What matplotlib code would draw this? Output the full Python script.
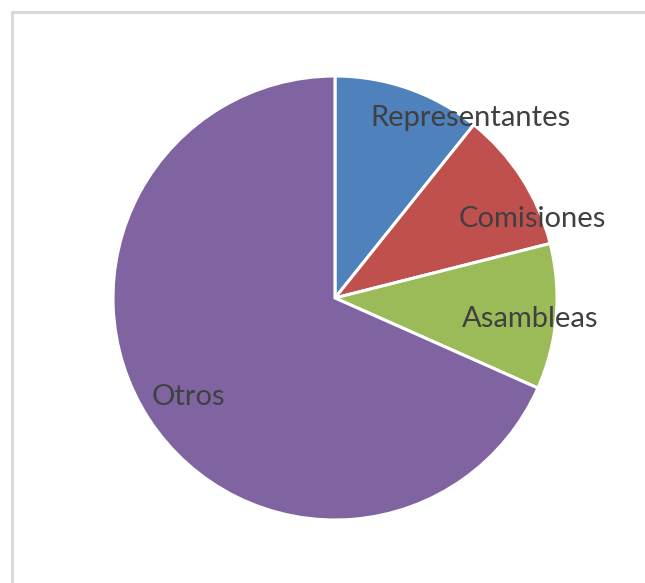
import matplotlib

matplotlib.use("Agg")
import matplotlib.pyplot as plt
from matplotlib.lines import Line2D

# share of each group (percent), clockwise from 12 o'clock
categories = ["Representantes", "Comisiones", "Asambleas", "Otros"]
shares = [10.75, 10.3, 10.6, 68.35]
colors = ["#4F81BD", "#C0504D", "#9BBB59", "#8064A2"]
# label anchor points in pie units (radius = 1)
label_pos = [(0.61, 0.81), (0.89, 0.355), (0.88, -0.095), (-0.66, -0.445)]

W, H = 645, 583
fig = plt.figure(figsize=(W / 100, H / 100), dpi=100)

# light grey chart-area frame (only top and left edges fall inside the image)
fig.add_artist(Line2D([11.5 / W, 11.5 / W], [0, 1 - 11.5 / H], color="#d9d9d9", lw=2.2))
fig.add_artist(Line2D([11.5 / W, 1], [1 - 11.5 / H, 1 - 11.5 / H], color="#d9d9d9", lw=2.2))

cx, cy, r = 335, 298, 222
ax = fig.add_axes([(cx - r) / W, (H - cy - r) / H, 2 * r / W, 2 * r / H])
ax.pie(shares, colors=colors, startangle=90, counterclock=False, radius=1,
       wedgeprops=dict(edgecolor="white", linewidth=2.2))
ax.set_xlim(-1, 1); ax.set_ylim(-1, 1)
ax.set_aspect("auto")
ax.axis("off")

for name, (x, y) in zip(categories, label_pos):
    ax.text(x, y, name, ha="center", va="center", fontsize=21, color="#404040",
            family=["Lato", "DejaVu Sans"])

fig.savefig("out.png", dpi=100)
